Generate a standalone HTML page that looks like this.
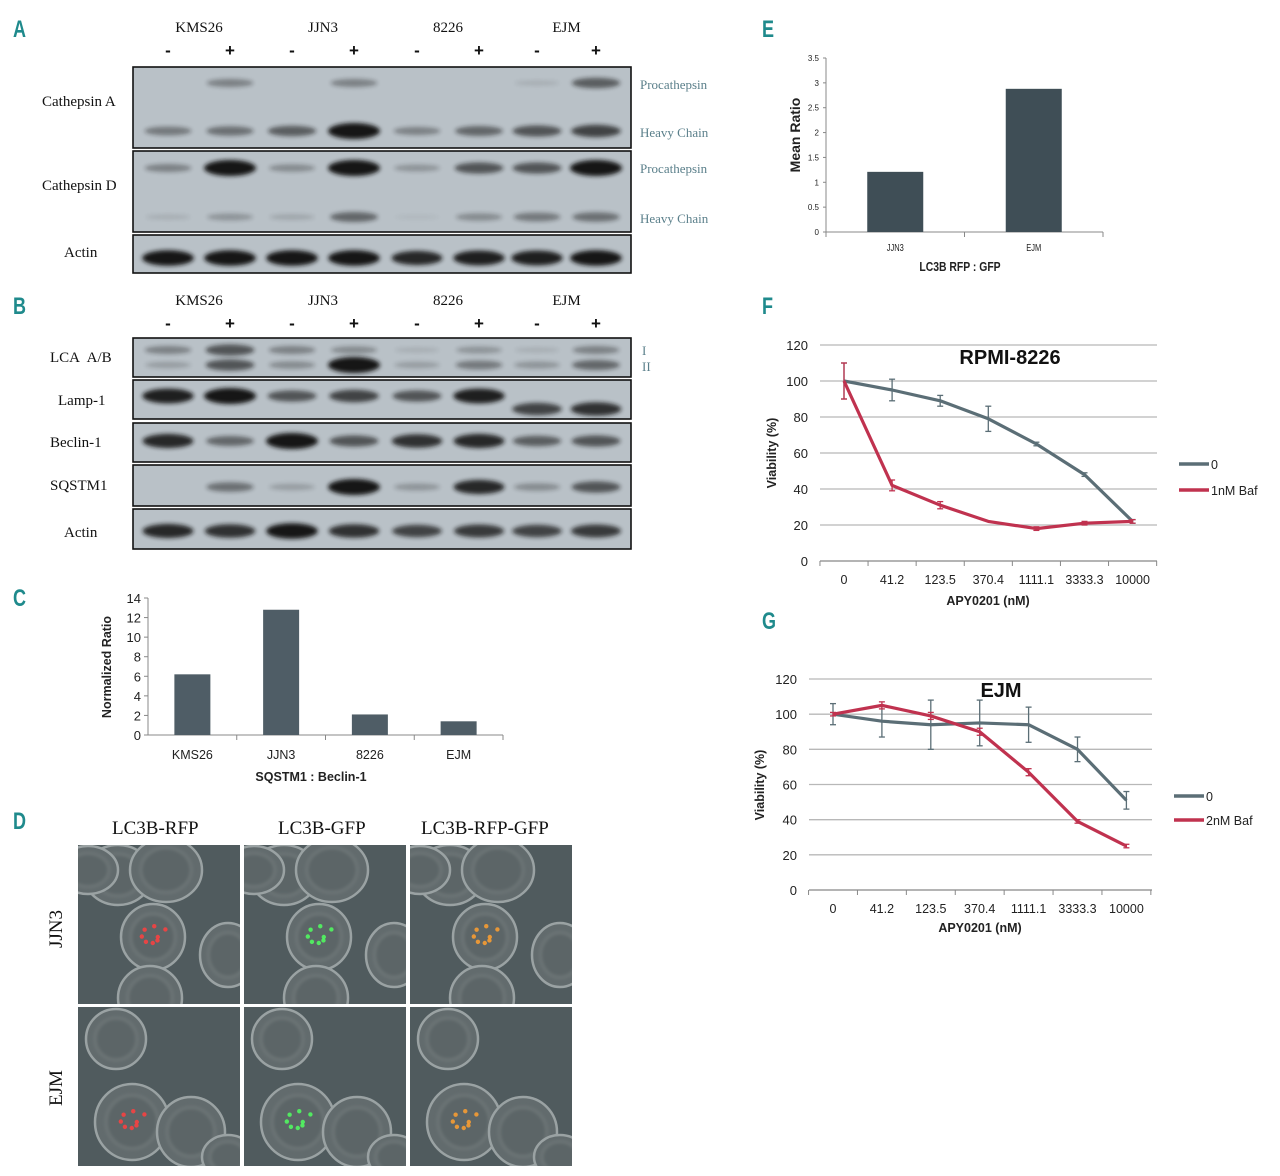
<!DOCTYPE html>
<html><head><meta charset="utf-8">
<style>
body{margin:0;background:#fff;width:1280px;height:1176px;overflow:hidden;position:relative;font-family:"Liberation Sans",sans-serif}
.abs{position:absolute}
.letter{position:absolute;font:bold 24px "Liberation Sans",sans-serif;color:#1f8a8c;transform:scaleX(.75);transform-origin:left top}
.serif{font-family:"Liberation Serif",serif;font-size:15px;color:#111;position:absolute;white-space:nowrap}
.teal{font-family:"Liberation Serif",serif;font-size:13px;color:#5a7f8a;position:absolute;white-space:nowrap}
</style></head><body>
<div class="letter" style="left:13px;top:16px">A</div>
<div class="letter" style="left:13px;top:293px">B</div>
<div class="letter" style="left:13px;top:585px">C</div>
<div class="letter" style="left:13px;top:808px">D</div>
<div class="letter" style="left:762px;top:16px">E</div>
<div class="letter" style="left:762px;top:293px">F</div>
<div class="letter" style="left:762px;top:608px">G</div>

<svg id="blots" class="abs" style="left:0;top:0" width="760" height="560">
<defs><filter id="bl" x="-20%" y="-100%" width="140%" height="300%"><feGaussianBlur stdDeviation="2.2"/></filter></defs>
</svg>

<svg id="micro" class="abs" style="left:0;top:800px" width="760" height="376">
<defs><filter id="mb"><feGaussianBlur stdDeviation="1.5"/></filter></defs>
</svg>

<svg id="charts" class="abs" style="left:0;top:0" width="1280" height="1176"></svg>

<script>
const NS='http://www.w3.org/2000/svg';
function mk(parent,tag,attrs,text){const e=document.createElementNS(NS,tag);for(const k in attrs)e.setAttribute(k,attrs[k]);if(text!==undefined)e.textContent=text;parent.appendChild(e);return e;}

// ===== Western blots =====
const blots=document.getElementById('blots');
const laneX=[168,230,292,354,417,479,537,596];
const cellLines=['KMS26','JJN3','8226','EJM'];
const boxesA=[[67,148,'Cathepsin A',103],[151,232,'Cathepsin D',187],[235,273,'Actin',253]];
const boxesB=[[338,377,'LCA  A/B',358],[380,419,'Lamp-1',402],[423,462,'Beclin-1',444],[465,506,'SQSTM1',487],[509,549,'Actin',534]];
// band intensities per lane [y, intensities...]
const bandRows=[
 [83,[0,.35,0,.35,0,0,.1,.55]],
 [131,[.4,.45,.55,1,.35,.5,.6,.7]],
 [168,[.35,1,.3,1,.25,.6,.6,1]],
 [217,[.1,.25,.15,.5,.05,.3,.4,.45]],
 [258,[.95,.95,.95,.95,.85,.9,.9,.95]],
 [350,[.35,.6,.35,.3,.1,.25,.1,.35]],
 [365,[.2,.6,.3,1,.2,.4,.25,.5]],
 [396,[.9,1,.6,.7,.6,.9,0,0]],
 [409,[0,0,0,0,0,0,.7,.8]],
 [441,[.85,.5,1,.6,.8,.85,.55,.6]],
 [487,[0,.45,.2,1,.25,.85,.3,.6]],
 [531,[.85,.8,.95,.8,.7,.75,.7,.75]]
];
function drawBox(b,idx){
 mk(blots,'rect',{x:133,y:b[0],width:498,height:b[1]-b[0],fill:'#b9c1c7',stroke:'#111','stroke-width':1.6,});
}
boxesA.forEach((b,i)=>drawBox(b,'a'+i));
boxesB.forEach((b,i)=>drawBox(b,'b'+i));
bandRows.forEach((r,ri)=>{
 r[1].forEach((v,li)=>{
  if(v<=0)return;
  const e=mk(blots,'ellipse',{cx:laneX[li],cy:r[0],rx:22+v*4,ry:2+v*6,fill:'#151515',opacity:Math.min(1,v*1.05),filter:'url(#bl)'});
  
  
 });
});
</script>

<!-- blot labels -->
<div class="serif" style="left:42px;top:94px">Cathepsin A</div>
<div class="serif" style="left:42px;top:178px">Cathepsin D</div>
<div class="serif" style="left:64px;top:245px">Actin</div>
<div class="serif" style="left:50px;top:350px">LCA&nbsp; A/B</div>
<div class="serif" style="left:58px;top:393px">Lamp-1</div>
<div class="serif" style="left:50px;top:435px">Beclin-1</div>
<div class="serif" style="left:50px;top:478px">SQSTM1</div>
<div class="serif" style="left:64px;top:525px">Actin</div>
<div class="teal" style="left:640px;top:77px">Procathepsin</div>
<div class="teal" style="left:640px;top:125px">Heavy Chain</div>
<div class="teal" style="left:640px;top:161px">Procathepsin</div>
<div class="teal" style="left:640px;top:211px">Heavy Chain</div>
<div class="teal" style="left:642px;top:343px">I</div>
<div class="teal" style="left:642px;top:359px">II</div>

<div id="heads"></div>
<script>
const heads=document.getElementById('heads');
[[20,41],[293,314]].forEach((yy,p)=>{
 cellLines.forEach((c,i)=>{
  const d=document.createElement('div');d.className='serif';
  
  
  d.style.left=(((laneX[i*2]+laneX[i*2+1])/2)-25)+'px';d.style.width='50px';d.style.textAlign='center';d.style.top=yy[0]+'px';d.textContent=c;heads.appendChild(d);
 });
 laneX.forEach((x,i)=>{
  const d=document.createElement('div');d.className='serif';
  
  
  d.style.left=(x-10)+'px';d.style.width='20px';d.style.textAlign='center';d.style.top=yy[1]+'px';d.style.fontWeight='bold';d.style.fontFamily='"Liberation Sans",sans-serif';d.style.fontSize='17px';d.textContent=i%2?'+':'-';heads.appendChild(d);
 });
});

// ===== Microscopy =====
const micro=document.getElementById('micro');
const imgX=[78,244,410],imgY=[45,207],iw=162,ih=159;
const cellsRow=[
 [[40,30,34,30],[88,25,36,32],[75,92,32,33],[72,153,32,32],[150,110,28,32],[10,25,30,24]],
 [[38,32,30,30],[54,115,37,38],[113,125,34,35],[150,150,26,22]]
];
const dotColors=['#ff4040','#50ff60','#ffa030'];
imgY.forEach((y,r)=>{
 imgX.forEach((x,c)=>{
  const g=mk(micro,'g',{});
  mk(g,'rect',{x:x,y:y,width:iw,height:ih,fill:'#505b5e'});
  const cp='cp'+r+c;
  const cl=mk(g,'clipPath',{id:cp});mk(cl,'rect',{x:x,y:y,width:iw,height:ih});
  const inner=mk(g,'g',{'clip-path':'url(#'+cp+')'});
  cellsRow[r].forEach(cc=>{
   mk(inner,'ellipse',{cx:x+cc[0],cy:y+cc[1],rx:cc[2],ry:cc[3],fill:'#626b6d',stroke:'#9aa2a3','stroke-width':2.5});
   mk(inner,'ellipse',{cx:x+cc[0],cy:y+cc[1],rx:cc[2]*.7,ry:cc[3]*.7,fill:'#5a6365',stroke:'#727a7b','stroke-width':3,opacity:.7,filter:'url(#mb)'});
  });
  const ci=r===0?2:1;const cc=cellsRow[r][ci];
  for(let k=0;k<8;k++){
   const ang=k*0.8,rad=6+k*2;
   mk(inner,'circle',{cx:x+cc[0]+Math.cos(ang)*rad*.8,cy:y+cc[1]+Math.sin(ang)*rad*.6,r:2.2,fill:dotColors[c],opacity:.85});
  }
 });
});
</script>
<div class="serif" style="left:112px;top:818px;font-size:19px">LC3B-RFP</div>
<div class="serif" style="left:278px;top:818px;font-size:19px">LC3B-GFP</div>
<div class="serif" style="left:421px;top:818px;font-size:19px">LC3B-RFP-GFP</div>
<div class="serif" style="left:30px;top:912px;font-size:19px;transform:rotate(-90deg);transform-origin:left top;top:948px;left:46px">JJN3</div>
<div class="serif" style="left:46px;top:1106px;font-size:19px;transform:rotate(-90deg);transform-origin:left top">EJM</div>

<script>
const ch=document.getElementById('charts');
function txt(t,x,y,o){o=o||{};const e=mk(ch,'text',{x:x,y:y,'font-family':'"Liberation Sans",sans-serif','font-size':o.fs||12,'text-anchor':o.a||'middle',fill:o.c||'#222','font-weight':o.w||'normal'},t);if(o.rot)e.setAttribute('transform','rotate(-90 '+x+' '+y+')');if(o.sx)e.setAttribute('transform','translate('+x+' '+y+') scale('+o.sx+' 1) translate('+(-x)+' '+(-y)+')');return e;}
function line(x1,y1,x2,y2,s,w){return mk(ch,'line',{x1,y1,x2,y2,stroke:s||'#555','stroke-width':w||1});}

// ===== Panel C =====
const cCats=['KMS26','JJN3','8226','EJM'];
const cVals=[6.2,12.8,2.1,1.4];
const cTicks=[0,2,4,6,8,10,12,14];
{
 const x0=148,x1=503,y0=735,yTop=598,max=14;
 const ys=v=>y0-(v/max)*(y0-yTop);
 const bw=(x1-x0)/cCats.length;
 line(x0,yTop,x0,y0,'#888');line(x0,y0,x1,y0,'#888');
 cTicks.forEach(t=>{line(x0-4,ys(t),x0,ys(t),'#888');txt(String(t),x0-7,ys(t)+5,{a:'end',fs:13,n:'c-ytick'});});
 cCats.forEach((c,i)=>{
  const cx=x0+bw*(i+.5);
  const r=mk(ch,'rect',{x:cx-18,y:ys(cVals[i]),width:36,height:y0-ys(cVals[i]),fill:'#4f5d66'});
  
  
  txt(c,cx,y0+24,{fs:12.5,n:'c-xtick'});
  line(x0+bw*(i+1),y0,x0+bw*(i+1),y0+5,'#888');
 });
 txt('SQSTM1  : Beclin-1',311,781,{fs:12.5,w:'bold',n:'c-x-title'});
 txt('Normalized Ratio',111,667,{fs:12.5,w:'bold',rot:1,n:'c-y-title'});
}

// ===== Panel E =====
const eCats=['JJN3','EJM'];
const eVals=[1.21,2.88];
const eTicks=[0,0.5,1,1.5,2,2.5,3,3.5];
{
 const x0=826,x1=1103,y0=232,yTop=58,max=3.5;
 const ys=v=>y0-(v/max)*(y0-yTop);
 line(x0,yTop,x0,y0,'#888');line(x0,y0,x1,y0,'#888');
 eTicks.forEach(t=>{line(x0-3,ys(t),x0,ys(t),'#888');txt(String(t),x0-7,ys(t)+3,{a:'end',fs:8,n:'e-ytick'});});
 const bw=(x1-x0)/eCats.length;
 eCats.forEach((c,i)=>{
  const cx=x0+bw*(i+.5);
  const r=mk(ch,'rect',{x:cx-28,y:ys(eVals[i]),width:56,height:y0-ys(eVals[i]),fill:'#3f4e56'});
  
  
  txt(c,cx,y0+19,{fs:10,sx:.75,n:'e-xtick'});
  line(x0+bw*(i+1),y0,x0+bw*(i+1),y0+5,'#888');
 });
 line(x0,y0,x0,y0+5,'#888');
 txt('LC3B RFP : GFP',960,271,{fs:13,w:'bold',sx:.8,n:'e-x-title'});
 txt('Mean Ratio',800,135,{fs:14,w:'bold',rot:1,n:'e-y-title'});
}

// ===== Panels F & G =====
const xCats=['0','41.2','123.5','370.4','1111.1','3333.3','10000'];
const yTicksFG=[0,20,40,60,80,100,120];
const fCtrl=[100,95,89,79,65,48,22];
const fCtrlErr=[10,6,3,7,1,1,1];
const fBaf=[100,42,31,22,18,21,22];
const fBafErr=[10,3,2,0,1,1,1];
const gCtrl=[100,96,94,95,94,80,51];
const gCtrlErr=[6,9,14,13,10,7,5];
const gBaf=[100,105,99,90,67,39,25];
const gBafErr=[1,2,2,2,2,1,1];
function lineChart(o){
 const ys=v=>o.y0-(v/120)*(o.y0-o.yTop);
 const xs=i=>o.xFirst+i*o.dx;
 yTicksFG.forEach(t=>{ if(t>0) line(o.gx0,ys(t),o.gx1,ys(t),'#b8b8b8',1.3); txt(String(t),o.gx0-12,ys(t)+5,{a:'end',fs:13,n:o.id+'-ytick'});});
 line(o.gx0,o.y0,o.gx1,o.y0,'#888',1.3);
 for(let i=0;i<=xCats.length;i++) line(xs(i)-o.dx/2,o.y0,xs(i)-o.dx/2,o.y0+5,'#888');
 xCats.forEach((c,i)=>txt(c,xs(i),o.y0+23,{fs:12.5,n:o.id+'-xtick'}));
 [[o.ctrl,o.ctrlErr,'#5b6e76',o.id+'-series-0'],[o.baf,o.bafErr,'#c0324f',o.id+'-series-baf']].forEach(s=>{
  const p=mk(ch,'polyline',{points:s[0].map((v,i)=>xs(i)+','+ys(v)).join(' '),fill:'none',stroke:s[2],'stroke-width':3.2,'stroke-linejoin':'round'});
  
  
  s[0].forEach((v,i)=>{const e=s[1][i];if(!e)return;
   line(xs(i),ys(v+e),xs(i),ys(v-e),s[2],1.3);line(xs(i)-3,ys(v+e),xs(i)+3,ys(v+e),s[2],1.3);line(xs(i)-3,ys(v-e),xs(i)+3,ys(v-e),s[2],1.3);});
 });
 txt(o.title,o.tx,o.ty,{fs:20,w:'bold',n:o.id+'-title',c:'#111'});
 txt('APY0201 (nM)',o.xtx,o.xty,{fs:12.5,w:'bold',n:o.id+'-x-title'});
 txt('Viability (%)',o.ytx,o.yty,{fs:12.5,w:'bold',rot:1,n:o.id+'-y-title'});
 line(o.lx,o.ly1,o.lx+30,o.ly1,'#5b6e76',3.5);txt('0',o.lx+32,o.ly1+5,{a:'start',fs:12.5,n:o.id+'-legend-0'});
 line(o.lx,o.ly2,o.lx+30,o.ly2,'#c0324f',3.5);txt(o.bafLabel,o.lx+32,o.ly2+5,{a:'start',fs:12.5,n:o.id+'-legend-baf'});
}
lineChart({id:'f',y0:561,yTop:345,gx0:820,gx1:1157,xFirst:844,dx:48.1,ctrl:fCtrl,ctrlErr:fCtrlErr,baf:fBaf,bafErr:fBafErr,title:'RPMI-8226',tx:1010,ty:364,xtx:988,xty:605,ytx:776,yty:453,lx:1179,ly1:464,ly2:490,bafLabel:'1nM Baf'});
lineChart({id:'g',y0:890,yTop:679,gx0:809,gx1:1152,xFirst:833,dx:48.9,ctrl:gCtrl,ctrlErr:gCtrlErr,baf:gBaf,bafErr:gBafErr,title:'EJM',tx:1001,ty:697,xtx:980,xty:932,ytx:764,yty:785,lx:1174,ly1:796,ly2:820,bafLabel:'2nM Baf'});
</script>
</body></html>
